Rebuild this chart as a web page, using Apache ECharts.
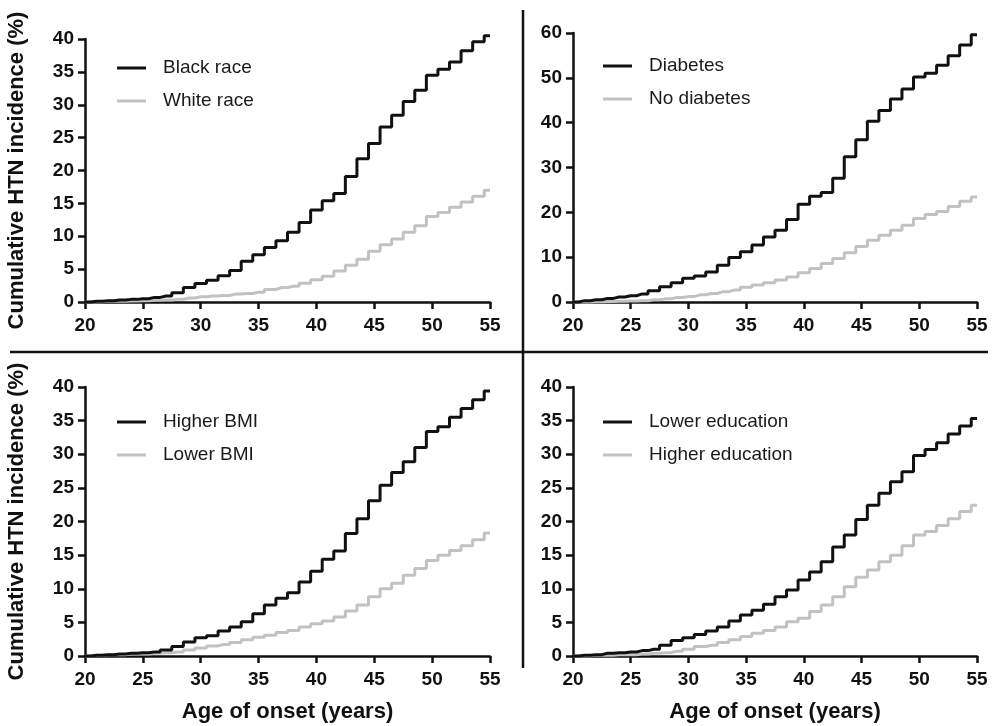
<!DOCTYPE html>
<html>
<head>
<meta charset="utf-8">
<script src="https://cdn.jsdelivr.net/npm/echarts@6/dist/echarts.min.js"></script>
<style>
html,body{margin:0;padding:0;background:#fff;}
#chart{width:995px;height:726px;}
</style>
</head>
<body>
<div id="chart"></div>
<script>
// ---- data ----
var ages = [20,21,22,23,24,25,26,27,28,29,30,31,32,33,34,35,36,37,38,39,40,41,42,43,44,45,46,47,48,49,50,51,52,53,54,55];

var blackRace = [0,0.1,0.2,0.3,0.4,0.5,0.7,0.9,1.4,2.2,2.8,3.3,4.0,4.8,6.2,7.2,8.3,9.3,10.6,12.1,14.0,15.4,16.5,19.1,21.8,24.1,26.6,28.4,30.5,32.2,34.5,35.4,36.5,38.2,39.6,40.5];
var whiteRace = [0,0.05,0.1,0.1,0.15,0.2,0.25,0.3,0.4,0.6,0.8,0.9,1.0,1.2,1.3,1.5,1.9,2.2,2.4,2.85,3.4,3.9,4.7,5.6,6.5,7.7,8.7,9.6,10.6,11.6,13.0,13.6,14.4,15.2,16.1,17.0];

var diabetes = [0,0.3,0.5,0.8,1.1,1.4,1.8,2.5,3.4,4.3,5.3,5.8,6.7,8.2,9.9,11.2,12.7,14.5,16.0,18.4,21.8,23.6,24.4,27.6,32.4,36.2,40.3,42.7,45.3,47.5,50.2,51.0,52.8,54.9,57.3,59.6];
var noDiabetes = [0,0,0.05,0.1,0.15,0.2,0.3,0.5,0.7,1.0,1.2,1.6,1.9,2.3,2.7,3.3,3.8,4.3,4.9,5.6,6.5,7.5,8.6,9.7,11.0,12.4,13.8,14.9,16.0,17.1,18.6,19.5,20.2,21.3,22.5,23.4];

var higherBMI = [0,0.1,0.2,0.3,0.4,0.5,0.6,0.9,1.4,2.1,2.7,3.0,3.7,4.3,5.1,6.3,7.6,8.6,9.4,11.0,12.6,14.4,15.6,18.2,20.4,23.1,25.4,27.3,28.9,31.0,33.4,34.1,35.5,36.8,38.1,39.4];
var lowerBMI = [0,0.1,0.2,0.2,0.3,0.3,0.4,0.5,0.6,0.9,1.2,1.5,1.7,2.0,2.4,2.8,3.1,3.5,3.8,4.3,4.8,5.2,5.8,6.7,7.6,8.8,10.0,10.8,12.0,13.0,14.2,15.0,15.7,16.4,17.3,18.3];

var lowerEdu = [0,0.1,0.2,0.4,0.5,0.6,0.8,1.0,1.6,2.3,2.7,3.2,3.7,4.3,5.2,6.1,6.8,7.7,8.8,9.8,11.3,12.5,14.0,16.2,18.0,20.3,22.4,24.2,25.9,27.4,29.8,30.7,31.7,33.0,34.2,35.3];
var higherEdu = [0,0.05,0.1,0.1,0.2,0.2,0.3,0.4,0.5,0.7,1.0,1.4,1.6,2.0,2.4,2.9,3.4,3.8,4.3,5.1,5.6,6.6,7.6,8.8,10.3,11.7,12.8,14.0,15.0,16.4,18.0,18.5,19.4,20.4,21.5,22.4];

var panelNames = [
  ['Black race','White race'],
  ['Diabetes','No diabetes'],
  ['Higher BMI','Lower BMI'],
  ['Lower education','Higher education']
];
var panelData = [
  [blackRace, whiteRace],
  [diabetes, noDiabetes],
  [higherBMI, lowerBMI],
  [lowerEdu, higherEdu]
];
var yMax = [40, 60, 40, 40];
var yInterval = [5, 10, 5, 5];
var xTicks = {min: 20, max: 55, interval: 5};
var yTitle = 'Cumulative HTN incidence (%)';
var xTitle = 'Age of onset (years)';

// ---- build ----
function pairs(arr){ return ages.map(function(a,i){ return [a, arr[i]]; }); }

var FONT = 'Liberation Sans, Arial, Helvetica, sans-serif';
var BLACK = '#111111';
var GRAY = '#c2c2c2';

var grids = [
  {left: 85, top: 39, width: 405, height: 263},
  {left: 573, top: 33, width: 404, height: 269},
  {left: 85, top: 387, width: 405, height: 269},
  {left: 573, top: 387, width: 404, height: 269}
];
var legendPos = [
  {left: 117, top: 57},
  {left: 603, top: 55},
  {left: 117, top: 411},
  {left: 603, top: 411}
];

var xAxes = [], yAxes = [], series = [], legends = [];
for (var p = 0; p < 4; p++) {
  var bottom = p >= 2;
  var leftCol = (p % 2) === 0;
  xAxes.push({
    type: 'value', gridIndex: p, min: xTicks.min, max: xTicks.max, interval: xTicks.interval,
    axisLine: {show: true, onZero: false, lineStyle: {color: BLACK, width: 2.5}},
    axisTick: {show: true, length: 7, lineStyle: {color: BLACK, width: 2.5}},
    axisLabel: {color: BLACK, fontSize: 19, fontWeight: 'bold', fontFamily: FONT, margin: 14},
    splitLine: {show: false},
    name: bottom ? xTitle : '',
    nameLocation: 'middle', nameGap: 45,
    nameTextStyle: {color: BLACK, fontSize: 22, fontWeight: 'bold', fontFamily: FONT}
  });
  yAxes.push({
    type: 'value', gridIndex: p, min: 0, max: yMax[p], interval: yInterval[p],
    axisLine: {show: true, lineStyle: {color: BLACK, width: 2.5}},
    axisTick: {show: true, length: 7, lineStyle: {color: BLACK, width: 2.5}},
    axisLabel: {color: BLACK, fontSize: 19, fontWeight: 'bold', fontFamily: FONT, margin: 11},
    splitLine: {show: false},
    name: leftCol ? yTitle : '',
    nameLocation: 'middle', nameGap: 57,
    nameTextStyle: {color: BLACK, fontSize: 22, fontWeight: 'bold', fontFamily: FONT}
  });
  // gray first so black draws on top
  series.push({
    name: panelNames[p][1], type: 'line', step: 'middle', xAxisIndex: p, yAxisIndex: p,
    data: pairs(panelData[p][1]), showSymbol: false, symbol: 'none', clip: false,
    lineStyle: {color: GRAY, width: 3}, itemStyle: {color: GRAY}
  });
  series.push({
    name: panelNames[p][0], type: 'line', step: 'middle', xAxisIndex: p, yAxisIndex: p,
    data: pairs(panelData[p][0]), showSymbol: false, symbol: 'none', clip: false,
    lineStyle: {color: BLACK, width: 3}, itemStyle: {color: BLACK}
  });
  legends.push({
    data: [panelNames[p][0], panelNames[p][1]],
    orient: 'vertical', left: legendPos[p].left, top: legendPos[p].top,
    padding: 0, itemGap: 11, itemWidth: 29, itemHeight: 3, icon: 'rect',
    selectedMode: false,
    textStyle: {color: '#1a1a1a', fontSize: 19, fontFamily: FONT, lineHeight: 22, padding: [0,0,0,12]}
  });
}

var chart = echarts.init(document.getElementById('chart'), null, {renderer: 'canvas'});
chart.setOption({
  backgroundColor: '#ffffff',
  animation: false,
  grid: grids,
  xAxis: xAxes,
  yAxis: yAxes,
  legend: legends,
  series: series,
  graphic: [
    {type: 'line', shape: {x1: 523, y1: 10, x2: 523, y2: 668}, style: {stroke: BLACK, lineWidth: 2.5}},
    {type: 'line', shape: {x1: 10, y1: 352, x2: 988, y2: 352}, style: {stroke: BLACK, lineWidth: 2.5}}
  ]
});
</script>
</body>
</html>
